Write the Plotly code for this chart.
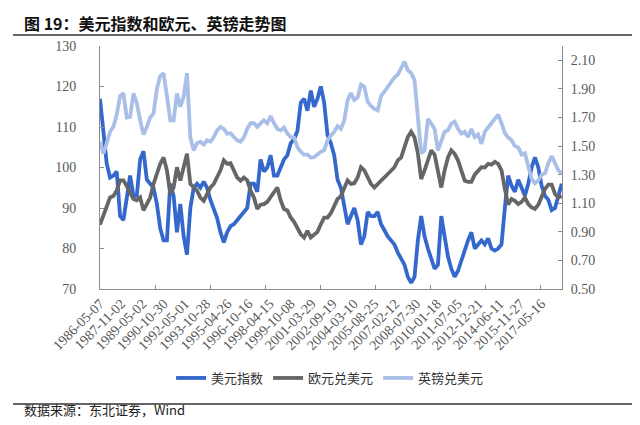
import plotly.graph_objects as go
import pandas as pd

# ---------------- data ----------------
start_date = "1986-05-07"
end_date = "2018-10-25"

usd_index = [
    117, 109, 101, 97.5, 98, 99, 88, 87, 93, 98,
    93, 93, 102, 104, 97, 96, 95, 91, 85, 82,
    82, 96, 93, 84, 91, 83, 78.5, 90, 95, 96,
    95, 96.5, 95, 92, 90, 87.5, 84, 81.5, 84, 85.5,
    86, 87, 88, 89, 90, 96, 96, 94, 102, 99,
    100, 103, 98, 98, 100, 102, 103, 106, 107, 109,
    116, 117,
    114, 119, 115, 117, 120, 116, 108, 106, 103, 97,
    95, 91, 86, 88, 90, 87, 81, 83, 89, 88,
    88, 89, 86, 84.5, 83, 82, 81, 79, 77.5, 76,
    73, 71.5, 73, 82, 88, 83, 80, 77.5, 75, 76,
    88, 83, 78, 75, 73, 74.5, 77, 80, 82, 84,
    80, 81, 82, 81, 82.5, 80, 79.5, 80, 81, 90,
    98, 95.5, 94, 97, 95, 93, 96, 100, 102.5, 100,
    95.5, 93, 92, 89.5, 90, 93, 96,
]

eur_usd = [
    0.95, 1.02, 1.08, 1.14, 1.15, 1.19, 1.26, 1.26, 1.22, 1.18,
    1.13, 1.12, 1.14, 1.05, 1.09, 1.14, 1.235, 1.305, 1.376, 1.42,
    1.33, 1.164, 1.21, 1.352, 1.258, 1.352, 1.446, 1.235, 1.21, 1.188,
    1.14, 1.117, 1.164, 1.21, 1.235, 1.28, 1.33, 1.40, 1.376, 1.38,
    1.33, 1.28, 1.258, 1.28, 1.26, 1.188, 1.14, 1.06, 1.09, 1.094,
    1.11, 1.14, 1.17, 1.21, 1.12, 1.06, 1.05, 1.0, 0.97, 0.92,
    0.883, 0.86,
    0.906, 0.86, 0.88, 0.9, 0.953, 1.0, 1.0, 1.03, 1.08, 1.13,
    1.15, 1.2, 1.26, 1.235, 1.24, 1.28, 1.352, 1.33, 1.28, 1.235,
    1.21, 1.23, 1.258, 1.28, 1.305, 1.33, 1.352, 1.4, 1.42, 1.493,
    1.563, 1.6, 1.56, 1.45, 1.27, 1.33, 1.40, 1.47, 1.44, 1.33,
    1.21, 1.33, 1.42, 1.47, 1.446, 1.4, 1.33, 1.258, 1.25, 1.25,
    1.3, 1.33, 1.352, 1.35, 1.376, 1.37, 1.39, 1.376, 1.33, 1.2,
    1.09, 1.13, 1.117, 1.094, 1.11, 1.14, 1.094, 1.07, 1.06, 1.09,
    1.15, 1.2, 1.23, 1.23, 1.164, 1.14, 1.15,
]

gbp_usd = [
    1.53, 1.446, 1.52, 1.6, 1.634, 1.72, 1.85, 1.87, 1.70, 1.704,
    1.868, 1.8, 1.68, 1.58, 1.634, 1.70, 1.728, 1.9, 1.99, 2.01,
    1.85, 1.68, 1.68, 1.868, 1.775, 1.845, 2.01, 1.56, 1.47, 1.52,
    1.53, 1.51, 1.54, 1.53, 1.563, 1.61, 1.634, 1.62, 1.587, 1.59,
    1.563, 1.54, 1.53, 1.56, 1.62, 1.66, 1.66, 1.634, 1.66, 1.68,
    1.66, 1.71, 1.66, 1.62, 1.61, 1.63, 1.587, 1.563, 1.56, 1.493,
    1.46, 1.44,
    1.44, 1.42, 1.423, 1.446, 1.46, 1.47, 1.54, 1.575, 1.6, 1.64,
    1.62, 1.68, 1.82, 1.87, 1.822, 1.84, 1.93, 1.915, 1.81, 1.78,
    1.76, 1.75, 1.85, 1.88, 1.915, 1.95, 1.98, 2.0, 2.05, 2.09,
    2.03, 2.01, 1.962, 1.70, 1.45, 1.47, 1.69, 1.657, 1.62, 1.47,
    1.54, 1.6, 1.61, 1.657, 1.67, 1.62, 1.587, 1.6, 1.563, 1.62,
    1.563, 1.58, 1.516, 1.6, 1.63, 1.66, 1.68, 1.72, 1.66, 1.59,
    1.56, 1.54, 1.5, 1.49, 1.44, 1.45, 1.36, 1.27, 1.24, 1.26,
    1.3, 1.31, 1.38, 1.43, 1.38, 1.33, 1.31,
]

series_names = ["美元指数", "欧元兑美元", "英镑兑美元"]
chart_title = "图 19：美元指数和欧元、英镑走势图"
source_note = "数据来源：东北证券，Wind"

x_tick_labels = [
    "1986-05-07", "1987-11-02", "1989-05-02", "1990-10-30", "1992-05-01",
    "1993-10-28", "1995-04-26", "1996-10-16", "1998-04-15", "1999-10-08",
    "2001-03-29", "2002-09-19", "2004-03-10", "2005-08-25", "2007-02-12",
    "2008-07-30", "2010-01-18", "2011-07-05", "2012-12-21", "2014-06-11",
    "2015-11-27", "2017-05-16",
]
x_tick_marks = [
    "1986-05-07", "1990-03-20", "1994-02-03", "1997-12-17", "2001-10-30",
    "2005-09-16", "2009-07-30", "2013-06-13", "2017-04-27",
]
left_ticks = [70, 80, 90, 100, 110, 120, 130]
right_ticks = [0.5, 0.7, 0.9, 1.1, 1.3, 1.5, 1.7, 1.9, 2.1]


def dates_for(series):
    return pd.date_range(start_date, end_date, periods=len(series))


# ---------------- figure ----------------
AX = "#8c8c8c"
TICKFONT = dict(family="Liberation Serif", size=14, color="#595959")
CJK = "Noto Sans CJK SC"

fig = go.Figure()
fig.add_trace(go.Scatter(x=dates_for(usd_index), y=usd_index, name=series_names[0],
                         mode="lines", line=dict(color="#3568CC", width=3.8), yaxis="y"))
fig.add_trace(go.Scatter(x=dates_for(eur_usd), y=eur_usd, name=series_names[1],
                         mode="lines", line=dict(color="#666666", width=3.8), yaxis="y2"))
fig.add_trace(go.Scatter(x=dates_for(gbp_usd), y=gbp_usd, name=series_names[2],
                         mode="lines", line=dict(color="#A9BFE7", width=3.8), yaxis="y2"))

fig.update_layout(
    width=640, height=425, autosize=False,
    margin=dict(l=92, r=86, t=38, b=144),
    paper_bgcolor="white", plot_bgcolor="white",
    xaxis=dict(type="date", range=["1986-05-07", "2018-11-01"],
               tickmode="array", tickvals=x_tick_labels, ticktext=x_tick_labels,
               tickangle=-45, ticks="inside", ticklen=0,
               tickfont=dict(family="Liberation Serif", size=14, color="#595959"),
               showline=True, linecolor=AX, linewidth=1,
               showgrid=False, zeroline=False,
               minor=dict(tickmode="array", tickvals=x_tick_marks, ticks="inside",
                          ticklen=4, tickcolor=AX, tickwidth=1, showgrid=False)),
    yaxis=dict(range=[70, 130], tickmode="array", tickvals=left_ticks,
               ticks="inside", ticklen=4, tickcolor=AX,
               tickfont=TICKFONT, ticklabelstandoff=20,
               showline=True, linecolor=AX, linewidth=1,
               showgrid=False, zeroline=False),
    yaxis2=dict(range=[0.5, 2.2], overlaying="y", side="right",
                tickmode="array", tickvals=right_ticks, tickformat=".2f",
                ticks="inside", ticklen=4, tickcolor=AX,
                tickfont=TICKFONT, ticklabelstandoff=5,
                showline=True, linecolor=AX, linewidth=1,
                showgrid=False, zeroline=False),
    legend=dict(orientation="h", x=0.498, xanchor="center",
                y=(281 - 370) / 243, yanchor="middle",
                font=dict(family=CJK, size=13, color="#333333"),
                bgcolor="rgba(0,0,0,0)"),
    showlegend=True,
)

fig.add_shape(type="line", xref="paper", yref="paper",
              x0=(5 - 92) / 462, x1=(630 - 92) / 462,
              y0=(281 - 27) / 243, y1=(281 - 27) / 243,
              line=dict(color="#333333", width=1.5))
fig.add_shape(type="line", xref="paper", yref="paper",
              x0=(5 - 92) / 462, x1=(630 - 92) / 462,
              y0=(281 - 396) / 243, y1=(281 - 396) / 243,
              line=dict(color="#333333", width=1.5))

fig.add_annotation(text="<b>" + chart_title + "</b>", xref="paper", yref="paper",
                   x=(14 - 92) / 462, y=(281 - 1) / 243,
                   xanchor="left", yanchor="top", showarrow=False,
                   font=dict(family=CJK, size=16, color="#111111"))

fig.add_annotation(text=source_note, xref="paper", yref="paper",
                   x=(14 - 92) / 462, y=(281 - 401) / 243,
                   xanchor="left", yanchor="middle", showarrow=False,
                   font=dict(family=CJK, size=13, color="#222222"))

fig.write_html("out.html")
